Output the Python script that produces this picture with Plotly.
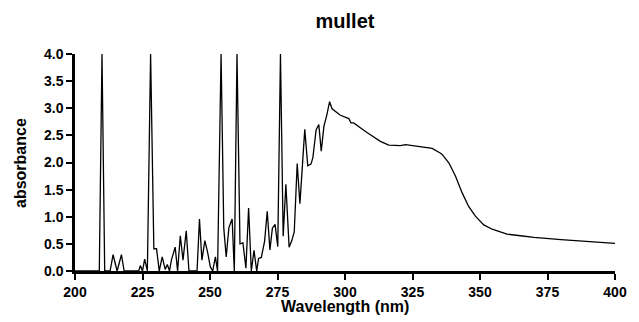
import plotly.graph_objects as go

wavelength = [200, 209, 210, 211, 213, 214.1, 215.6, 217.2, 218.2, 223.6, 224.2, 225, 225.8, 226.8,
              228, 229.2, 230.2, 231.2, 232.3, 233.4, 234.2, 235, 235.7, 237.1, 238, 239, 240, 241.2,
              242.2, 245.2, 246.1, 247, 248.1, 249.1, 250.1, 251, 252, 252.8, 254.1, 255.1, 256, 257,
              258.2, 259, 260, 261.1, 262.2, 263.3, 264.3, 265.3, 266.3, 267.3, 268, 269, 270.2, 271.2,
              272.2, 273.1, 274.1, 275.1, 276.1, 277.1, 278.1, 279.3, 280.3, 281.2, 282.3, 283.3, 285.1,
              286.2, 287.4, 288.1, 289.3, 290.3, 291.2, 292.2, 293.2, 294.3, 295.2, 296.8, 298.3, 301.4,
              302.2, 303.2, 305.7, 307.6, 309.4, 311.3, 313.1, 316.2, 318.1, 320.5, 322.4, 325.5, 329.2,
              332.3, 335.4, 336, 338.5, 340.9, 343.4, 345.8, 348.3, 351.4, 354.5, 358.8, 360, 365, 370,
              380, 390, 400]
absorbance = [0, 0, 4.0, 0, 0, 0.3, 0, 0.3, 0, 0, 0.1, 0, 0.22, 0,
              4.0, 0.41, 0.41, 0, 0.26, 0.03, 0.12, 0, 0.2, 0.44, 0, 0.65, 0.2, 0.74,
              0, 0, 0.96, 0.2, 0.56, 0.35, 0.08, 0, 0.26, 0, 4.0, 0.79, 0.26, 0.8,
              0.96, 0, 4.0, 0.5, 0.52, 0.05, 1.16, 0, 0.38, 0, 0.23, 0.25, 0.54, 1.1,
              0.39, 0.79, 0.86, 0.45, 4.0, 0.64, 1.6, 0.44, 0.56, 0.72, 1.98, 1.24, 2.61,
              1.94, 1.97, 2.09, 2.6, 2.7, 2.21, 2.67, 2.86, 3.12, 2.99, 2.93, 2.87, 2.81,
              2.73, 2.73, 2.63, 2.57, 2.51, 2.44, 2.39, 2.32, 2.31, 2.31, 2.33, 2.31, 2.28,
              2.26, 2.17, 2.15, 1.99, 1.75, 1.44, 1.19, 1.01, 0.85, 0.77, 0.69, 0.68, 0.65, 0.62,
              0.58, 0.55, 0.51]

x_ticks = [200, 225, 250, 275, 300, 325, 350, 375, 400]
y_ticks = [0.0, 0.5, 1.0, 1.5, 2.0, 2.5, 3.0, 3.5, 4.0]
y_ticklabels = [f"{v:.1f}" for v in y_ticks]

font_family = "Liberation Sans, Arial, sans-serif"
L, R, T, B = 75, 24, 54, 51
W, H = 639, 322
plot_w, plot_h = W - L - R, H - T - B

fig = go.Figure(go.Scatter(x=wavelength, y=absorbance, mode="lines",
                           line=dict(color="black", width=1.3), showlegend=False))

fig.update_layout(
    width=W, height=H,
    margin=dict(l=L, r=R, t=T, b=B),
    paper_bgcolor="white", plot_bgcolor="white",
    title=dict(text="<b>mullet</b>", x=0.5, xref="paper", xanchor="center",
               y=1 - 21 / H, yanchor="middle",
               font=dict(family=font_family, size=20, color="black")),
    font=dict(family=font_family, color="black"),
    annotations=[
        dict(text="<b>Wavelength (nm)</b>", xref="paper", yref="paper",
             x=0.5, y=-(306.5 - (H - B)) / plot_h, xanchor="center", yanchor="middle",
             showarrow=False, font=dict(size=16, family=font_family, color="black")),
        dict(text="<b>absorbance</b>", xref="paper", yref="paper", textangle=-90,
             x=(20 - L) / plot_w, y=((H - B) - 163) / plot_h, xanchor="center", yanchor="middle",
             showarrow=False, font=dict(size=16, family=font_family, color="black")),
    ],
)
fig.update_xaxes(range=[200, 400], tickvals=x_ticks, ticktext=[f"<b>{v}</b>" for v in x_ticks],
                 showgrid=False, zeroline=False, showline=True, linecolor="black", linewidth=2.5,
                 ticks="outside", ticklen=6, tickwidth=2, tickcolor="black",
                 tickfont=dict(size=14, family=font_family))
fig.update_yaxes(range=[0, 4], tickvals=y_ticks, ticktext=[f"<b>{t}</b>" for t in y_ticklabels],
                 showgrid=False, zeroline=False, showline=True, linecolor="black", linewidth=2.5,
                 ticks="outside", ticklen=6, tickwidth=2, tickcolor="black",
                 tickfont=dict(size=14, family=font_family))

fig.write_html("out.html")
